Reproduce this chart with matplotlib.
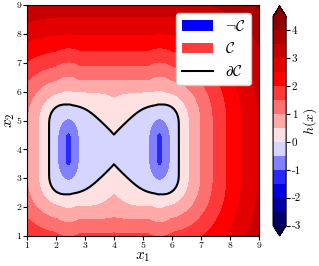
import numpy as np
import matplotlib
matplotlib.use("Agg")
import matplotlib.pyplot as plt
from matplotlib.colors import TwoSlopeNorm
from matplotlib.patches import Patch
from matplotlib.lines import Line2D

plt.rcParams['font.family'] = 'serif'
plt.rcParams['font.serif'] = ['cmr10']
plt.rcParams['mathtext.fontset'] = 'cm'
plt.rcParams['axes.unicode_minus'] = False

# contour levels / ticks
levels = np.arange(-3, 4.51, 0.5)
axis_ticks = [1, 2, 3, 4, 5, 6, 7, 8, 9]
cbar_ticks = [-3, -2, -1, 0, 1, 2, 3, 4]

# shape of the safe set boundary
box_x = [1.76, 6.24]      # left / right edge of the unsafe region
box_y = [2.40, 5.60]      # bottom / top edge
notch_top = 4.55          # tip of the upper notch at x1 = 4
notch_bot = 3.45          # tip of the lower notch
notch_slope = 0.95
wells_x = [2.43, 5.57]    # deepest points of h
well_y = 4.0
well_min = -1.21


def h_fun(x1, x2):
    cx = (box_x[0] + box_x[1]) / 2
    hx = (box_x[1] - box_x[0]) / 2
    cy = (box_y[0] + box_y[1]) / 2
    hy = (box_y[1] - box_y[0]) / 2
    r, a, p = 0.75, 1.1, 2.4
    X = a * (np.abs(x1 - cx) - hx) + r
    Y = (np.abs(x2 - cy) - hy) + r
    out = (np.maximum(X, 0) ** p + np.maximum(Y, 0) ** p) ** (1 / p)
    d = out + np.minimum(np.maximum(X, Y), 0) - r
    box = np.where(d > 0, 1.3 * d / (1 + 0.1 * np.maximum(d, 0)), d)

    n = np.hypot(1, notch_slope)
    wt = ((x2 - notch_top) - notch_slope * np.abs(x1 - cx)) / n
    wb = ((notch_bot - x2) - notch_slope * np.abs(x1 - cx)) / n
    wt = np.where(wt > 0, 0.52 * wt, 0.42 * wt)
    wb = np.where(wb > 0, 0.68 * wb, 0.42 * wb)
    s = 0.13
    shape = s * np.log(np.exp(box / s) + np.exp(wt / s) + np.exp(wb / s))

    wells = []
    for wx in wells_x:
        dy = 0.53 * np.maximum(np.abs(x2 - well_y) - 0.37, 0)
        wells.append(well_min + 1.923 * np.sqrt((x1 - wx) ** 2 + dy ** 2))
    return np.minimum(shape, np.minimum(wells[0], wells[1]))


g = np.linspace(1, 9, 500)
G1, G2 = np.meshgrid(g, g)
H = h_fun(G1, G2)

fig = plt.figure(figsize=(3.19, 2.66), dpi=100)
ax = fig.add_axes([0.0846, 0.1128, 0.727, 0.868])
norm = TwoSlopeNorm(vmin=-3, vcenter=0, vmax=4.5)
cf = ax.contourf(G1, G2, H, levels=levels, cmap='seismic', norm=norm, extend='both')
ax.contour(G1, G2, H, levels=[0], colors='k', linewidths=1.5)

ax.set_xticks(axis_ticks)
ax.set_yticks(axis_ticks)
ax.tick_params(labelsize=7, length=3, pad=1)
ax.set_xlabel(r'$x_1$', fontsize=11, labelpad=0)
ax.set_ylabel(r'$x_2$', fontsize=11, labelpad=0)

handles = [Patch(facecolor='blue'), Patch(facecolor='#ff3b3b'),
           Line2D([], [], color='k', lw=1.5)]
labels = [r'$\neg\mathcal{C}$', r'$\mathcal{C}$', r'$\partial\mathcal{C}$']
ax.legend(handles, labels, loc='upper right', fontsize=11, framealpha=1)

cax = fig.add_axes([0.856, 0.1128, 0.041, 0.865])
cb = fig.colorbar(cf, cax=cax, ticks=cbar_ticks)
cb.ax.tick_params(labelsize=8, length=3, pad=1)
cb.set_label(r'$h(x)$', fontsize=10, labelpad=0)

fig.savefig('out.png', dpi=100)
